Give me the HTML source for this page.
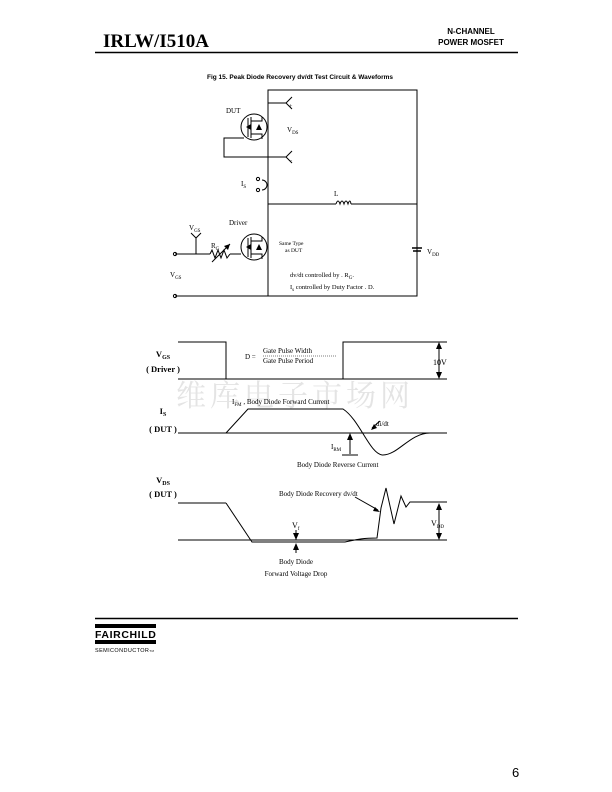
<!DOCTYPE html>
<html><head><meta charset="utf-8"><style>
html,body{margin:0;padding:0;background:#fff}
svg{display:block}
.s{font-family:"Liberation Serif",serif}
.a{font-family:"Liberation Sans",sans-serif}
</style></head><body>
<svg width="612" height="792" viewBox="0 0 612 792" xmlns="http://www.w3.org/2000/svg">
<text x="176" y="406" font-size="30" fill="#e4e4e4" font-family="Noto Serif CJK SC,serif" letter-spacing="4">维库电子市场网</text>
<g fill="none" stroke="#000" stroke-width="1">
<line x1="95" y1="52.5" x2="518" y2="52.5" stroke-width="1.6"/>
<polyline points="268,296 268,90 417,90 417,296 175,296"/>
<line x1="268" y1="204" x2="336" y2="204"/>
<line x1="351" y1="204" x2="417" y2="204"/>
<path d="M336,204 q2,-6 4,0 q2,-6 4,0 q2,-6 4,0 q2,-6 3,0"/>
<line x1="268" y1="103" x2="286" y2="103"/>
<polyline points="292,97 286,103 292,109"/>
<line x1="268" y1="157" x2="286" y2="157"/>
<polyline points="292,151 286,157 292,163"/>
<circle cx="254" cy="127" r="13"/>
<polyline points="244,138 224,138 224,157 268,157"/>
<circle cx="254" cy="247" r="13"/>
<line x1="175" y1="254" x2="210" y2="254"/>
<line x1="230" y1="254" x2="241" y2="254"/>
<polyline points="210,254 212,250 215,258 218,250 221,258 224,250 227,258 230,254"/>
<line x1="212" y1="262" x2="230" y2="244"/>
<line x1="196" y1="254" x2="196" y2="238"/>
<polyline points="191,233 196,238 201,233"/>
<path d="M262,180 a5,5 0 0 1 0,10"/>
<circle cx="258" cy="179" r="1.6"/>
<circle cx="258" cy="190" r="1.6"/>
<circle cx="175" cy="254" r="1.6"/>
<circle cx="175" cy="296" r="1.6"/>
<line x1="412" y1="248" x2="422" y2="248" stroke-width="1.5"/>
<line x1="413" y1="251" x2="421" y2="251" stroke-width="1.5"/>
<polyline points="248,118 248,137"/><polyline points="251,117 251,138"/>
<polyline points="251,121 262,121 262,117"/><polyline points="251,134 262,134 262,139"/>
<polyline points="248,238 248,257"/><polyline points="251,237 251,258"/>
<polyline points="251,241 262,241 262,237"/><polyline points="251,254 262,254 262,259"/>
<polyline points="178,342 226,342 226,379 343,379 343,342 447,342"/>
<line x1="178" y1="379" x2="447" y2="379"/>
<line x1="178" y1="433" x2="447" y2="433"/>
<path d="M226,433 L248,409 L343,409 C360,420 370,455 383,455 C398,455 410,433 430,433"/>
<line x1="178" y1="503" x2="226" y2="503"/>
<line x1="178" y1="540" x2="447" y2="540"/>
<path d="M226,503 L252,542 L345,542 C355,540 360,538 377,538 L381,508 L386,488 L394,524 L401,496 L406,507 L410,502 L447,502"/>
<line x1="439" y1="346" x2="439" y2="376"/>
<line x1="350" y1="437" x2="350" y2="454"/><line x1="342" y1="455" x2="358" y2="455"/>
<line x1="439" y1="507" x2="439" y2="537"/>
<line x1="296" y1="530" x2="296" y2="540"/><line x1="296" y1="544" x2="296" y2="553"/>
<line x1="372" y1="428" x2="380" y2="421"/>
<line x1="355" y1="497" x2="378" y2="510"/>
<line x1="263" y1="356" x2="336" y2="356" stroke-dasharray="1,1" stroke-width="0.6"/>
<line x1="95" y1="618.5" x2="518" y2="618.5" stroke-width="1.6"/>
</g>
<g fill="#000" stroke="none">
<polygon points="246,127 251,124 251,130"/><polygon points="256,130 262,130 259,124"/>
<polygon points="246,247 251,244 251,250"/><polygon points="256,250 262,250 259,244"/>
<polygon points="439,342 436,349 442,349"/><polygon points="439,379 436,372 442,372"/>
<polygon points="350,433 347,440 353,440"/>
<polygon points="439,503 436,510 442,510"/><polygon points="439,540 436,533 442,533"/>
<polygon points="296,540 293,533 299,533"/><polygon points="296,543 293,550 299,550"/>
<polygon points="371,430 374,424 377,428"/><polygon points="380,512 373,511 375,507"/>
<polygon points="230,244 224,246 228,250"/>
<rect x="95" y="624" width="61" height="4"/>
<rect x="95" y="640" width="61" height="4"/>
</g>
<text x="103" y="47" class="s" font-size="19" font-weight="bold">IRLW/I510A</text>
<text x="471" y="34" class="a" font-size="8" font-weight="bold" text-anchor="middle">N-CHANNEL</text>
<text x="471" y="45" class="a" font-size="8" font-weight="bold" text-anchor="middle">POWER MOSFET</text>
<text x="300" y="79" class="a" font-size="6.5" font-weight="bold" text-anchor="middle">Fig 15.  Peak Diode Recovery dv/dt Test Circuit  &amp;  Waveforms</text>
<g class="s" font-size="7">
<text x="226" y="113">DUT</text>
<text x="287" y="132">V<tspan font-size="5" dy="2">DS</tspan></text>
<text x="289" y="108" font-size="6">+</text>
<text x="289" y="162" font-size="6">–</text>
<text x="241" y="186">I<tspan font-size="5" dy="2">S</tspan></text>
<text x="334" y="196">L</text>
<text x="229" y="225">Driver</text>
<text x="189" y="230">V<tspan font-size="5" dy="2">GS</tspan></text>
<text x="211" y="248">R<tspan font-size="5" dy="2">G</tspan></text>
<text x="279" y="245" font-size="5.5">Same Type</text>
<text x="285" y="252" font-size="5.5">as DUT</text>
<text x="170" y="277">V<tspan font-size="5" dy="2">GS</tspan></text>
<text x="427" y="254">V<tspan font-size="5" dy="2">DD</tspan></text>
<text x="290" y="277" font-size="6.5">dv/dt controlled by . R<tspan font-size="5" dy="2">G</tspan><tspan dy="-2">.</tspan></text>
<text x="290" y="289" font-size="6.5">I<tspan font-size="5" dy="2">s</tspan><tspan dy="-2"> controlled by Duty Factor . D.</tspan></text>
<text x="263" y="353">Gate Pulse Width</text>
<text x="245" y="359">D =</text>
<text x="263" y="363">Gate Pulse Period</text>
<text x="433" y="365" font-size="8">10V</text>
<text x="232" y="404">I<tspan font-size="5" dy="2">FM</tspan><tspan dy="-2"> , Body Diode Forward Current</tspan></text>
<text x="376" y="426">di/dt</text>
<text x="331" y="449">I<tspan font-size="5" dy="2">RM</tspan></text>
<text x="297" y="467">Body Diode Reverse Current</text>
<text x="279" y="496">Body Diode Recovery dv/dt</text>
<text x="292" y="528" font-size="8">V<tspan font-size="5" dy="2">f</tspan></text>
<text x="431" y="526" font-size="8">V<tspan font-size="5" dy="2">DD</tspan></text>
<text x="296" y="564" text-anchor="middle">Body Diode</text>
<text x="296" y="576" text-anchor="middle">Forward Voltage Drop</text>
</g>
<g class="s" font-size="8.5" font-weight="bold" text-anchor="middle">
<text x="163" y="357">V<tspan font-size="6" dy="2">GS</tspan></text>
<text x="163" y="372">( Driver )</text>
<text x="163" y="414">I<tspan font-size="6" dy="2">S</tspan></text>
<text x="163" y="432">( DUT )</text>
<text x="163" y="483">V<tspan font-size="6" dy="2">DS</tspan></text>
<text x="163" y="497">( DUT )</text>
</g>
<text x="95" y="638" class="a" font-size="10.5" font-weight="bold" letter-spacing="0.6">FAIRCHILD</text>
<text x="95" y="652" class="a" font-size="5.5" letter-spacing="0.4">SEMICONDUCTOR<tspan font-size="3">TM</tspan></text>
<text x="512" y="777" class="a" font-size="13">6</text>
</svg>
</body></html>
